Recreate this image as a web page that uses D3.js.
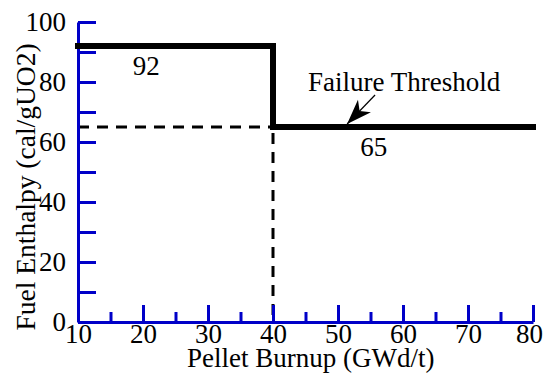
<!DOCTYPE html>
<html>
<head>
<meta charset="utf-8">
<script src="https://cdn.jsdelivr.net/npm/d3@7"></script>
<style>
  html, body { margin: 0; padding: 0; background: #fff; }
  svg text { font-family: "Liberation Serif", "Times New Roman", Times, serif; fill: #000; }
</style>
</head>
<body>
<svg id="chart" width="545" height="375"></svg>
<script>
// Failure threshold of fuel enthalpy as a function of pellet burnup
const burnupSteps = [10, 40, 80];          // GWd/t, breakpoints of the step
const enthalpyLevels = [92, 65];           // cal/gUO2 held on each interval
const xTicksMajor = [10, 20, 30, 40, 50, 60, 70, 80];
const xTicksMinor = [15, 25, 35, 45, 55, 65, 75];
const yTicks = [0, 10, 20, 30, 40, 50, 60, 70, 80, 90, 100];
const yTickLabels = [0, 20, 40, 60, 80, 100];
const annotationText = "Failure Threshold";
const xTitle = "Pellet Burnup (GWd/t)";
const yTitle = "Fuel Enthalpy (cal/gUO2)";

const axisBlue = "#0000c8";
const serif = '"Liberation Serif", "Times New Roman", Times, serif';
const margin = { left: 78, top: 22, right: 12, bottom: 53 };
const W = 545, H = 375;

const svg = d3.select("#chart");
const x = d3.scaleLinear().domain([10, 80]).range([margin.left, W - margin.right]);
const y = d3.scaleLinear().domain([0, 100]).range([H - margin.bottom, margin.top]);

// Step line built from the breakpoints and levels
const stepPts = [];
enthalpyLevels.forEach((v, i) => {
  stepPts.push([burnupSteps[i], v]);
  stepPts.push([burnupSteps[i + 1], v]);
});

// Dashed guides marking where the threshold drops
const dropX = burnupSteps[1];
const lowLevel = enthalpyLevels[1];
svg.append("path")
  .attr("d", d3.line()([[x(10), y(lowLevel)], [x(dropX), y(lowLevel)]]))
  .attr("stroke", "#000").attr("stroke-width", 3)
  .attr("stroke-dasharray", "11,8").attr("fill", "none");
svg.append("path")
  .attr("d", d3.line()([[x(dropX), y(lowLevel)], [x(dropX), y(0)]]))
  .attr("stroke", "#000").attr("stroke-width", 3)
  .attr("stroke-dasharray", "11,8").attr("stroke-dashoffset", -6).attr("fill", "none");

// Y axis
const yAxis = d3.axisLeft(y)
  .tickValues(yTicks)
  .tickSizeInner(-18).tickSizeOuter(0).tickPadding(12)
  .tickFormat(d => yTickLabels.includes(d) ? d : "");
const gy = svg.append("g").attr("transform", `translate(${margin.left},0)`).call(yAxis);

// X axis (major ticks with labels)
const xAxis = d3.axisBottom(x)
  .tickValues(xTicksMajor)
  .tickSizeInner(-17).tickSizeOuter(0).tickPadding(2)
  .tickFormat(d3.format("d"));
const gx = svg.append("g").attr("transform", `translate(0,${y(0)})`).call(xAxis);

// X axis minor ticks
const xMinor = d3.axisBottom(x)
  .tickValues(xTicksMinor)
  .tickSizeInner(-10).tickSizeOuter(0)
  .tickFormat("");
const gxm = svg.append("g").attr("transform", `translate(0,${y(0)})`).call(xMinor);
gxm.select(".domain").remove();

[gy, gx, gxm].forEach(g => {
  g.attr("font-family", serif).attr("font-size", 27);
  g.selectAll(".domain").attr("stroke", axisBlue).attr("stroke-width", 3);
  g.selectAll(".tick line").attr("stroke", axisBlue).attr("stroke-width", 3);
  g.selectAll(".tick text")
    .style("font-family", serif)
    .style("font-size", "27px").attr("fill", "#000");
});
// keep the last x label inside the frame
gx.selectAll(".tick text").filter(d => d === xTicksMajor[xTicksMajor.length - 1]).attr("dx", -4);

// Threshold step line
svg.append("path")
  .attr("d", d3.line().x(d => x(d[0])).y(d => y(d[1]))(stepPts))
  .attr("fill", "none").attr("stroke", "#000")
  .attr("stroke-width", 6).attr("stroke-linecap", "square")
  .attr("stroke-linejoin", "miter");

// Value labels under each level
const levelLabels = [
  { text: "92", x: 20.5, y: enthalpyLevels[0] - 9.7 },
  { text: "65", x: 55.5, y: enthalpyLevels[1] - 9.7 }
];
svg.selectAll("text.lvl").data(levelLabels).enter().append("text")
  .attr("class", "lvl")
  .attr("x", d => x(d.x)).attr("y", d => y(d.y))
  .attr("text-anchor", "middle").style("font-size", "27px")
  .text(d => d.text);

// Annotation with arrow pointing onto the lower level
const tip = [x(51.4), y(lowLevel) - 3];
const tail = [x(55.7), y(lowLevel) - 32];
svg.append("line")
  .attr("x1", tail[0]).attr("y1", tail[1])
  .attr("x2", tip[0]).attr("y2", tip[1])
  .attr("stroke", "#000").attr("stroke-width", 1.2);
{
  const ang = Math.atan2(tip[1] - tail[1], tip[0] - tail[0]);
  const L = 25, Wd = 9, notch = 18;
  const ux = Math.cos(ang), uy = Math.sin(ang);
  const px = -uy, py = ux;
  const b1 = [tip[0] - ux * L + px * Wd, tip[1] - uy * L + py * Wd];
  const b2 = [tip[0] - ux * L - px * Wd, tip[1] - uy * L - py * Wd];
  const nc = [tip[0] - ux * notch, tip[1] - uy * notch];
  svg.append("path")
    .attr("d", `M${tip}L${b1}L${nc}L${b2}Z`)
    .attr("fill", "#000");
}
svg.append("text")
  .attr("x", x(45.4)).attr("y", y(lowLevel) - 36)
  .attr("text-anchor", "start").style("font-size", "27px")
  .text(annotationText);

// Axis titles
svg.append("text")
  .attr("x", x(45.8)).attr("y", 367)
  .attr("text-anchor", "middle").style("font-size", "27px")
  .text(xTitle);
svg.append("text")
  .attr("transform", `translate(35,${y(45)}) rotate(-90)`)
  .attr("text-anchor", "middle").style("font-size", "27.5px")
  .text(yTitle);
</script>
</body>
</html>
